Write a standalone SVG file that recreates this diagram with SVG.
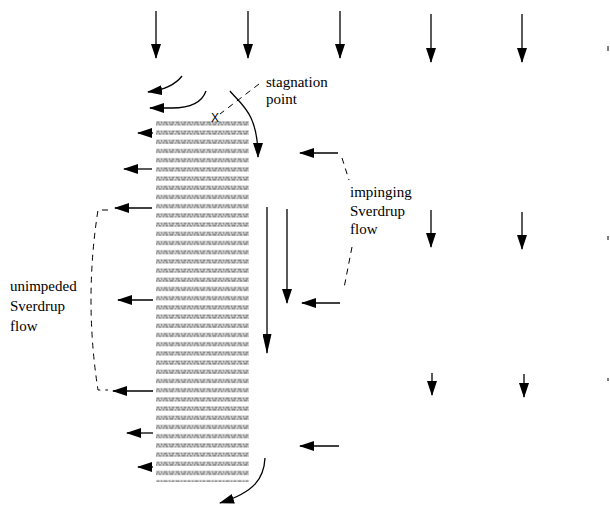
<svg xmlns="http://www.w3.org/2000/svg" width="610" height="505" viewBox="0 0 610 505">
<style>
.a{fill:none;stroke:#000;stroke-width:1.3;marker-end:url(#ah)}
.al{fill:none;stroke:#000;stroke-width:1.3;marker-end:url(#ahl)}
.d{fill:none;stroke:#000;stroke-width:1;stroke-dasharray:6 5}
.t{font-family:"Liberation Serif","Times New Roman",serif;font-size:15px;fill:#000}
</style>
<defs>
<marker id="ah" viewBox="0 0 15 10" markerWidth="15" markerHeight="10" refX="14" refY="5" markerUnits="userSpaceOnUse" orient="auto">
<path d="M0,0 L15,5 L0,10 Z" fill="#000"/>
</marker>
<marker id="ahl" viewBox="0 0 20 9" markerWidth="20" markerHeight="9" refX="19" refY="4.5" markerUnits="userSpaceOnUse" orient="auto">
<path d="M0,0 L20,4.5 L0,9 Z" fill="#000"/>
</marker>
<pattern id="hatch" patternUnits="userSpaceOnUse" x="156" y="121" width="31" height="9.2">
<rect x="0" y="0.3" width="31" height="4.2" fill="#bdbdbd"/>
<path d="M1,1.3h2M5,1.3h1M8,1.3h3M13,1.3h1M16,1.3h2M20,1.3h3M25,1.3h1M28,1.3h2M0,3.4h1M3,3.4h2M7,3.4h1M10,3.4h2M14,3.4h3M19,3.4h1M22,3.4h2M26,3.4h3" stroke="#8a8a8a" stroke-width="1.4"/>
<path d="M4,2.4h1M12,2.4h1M18,2.4h2M24,2.4h1M30,2.4h1" stroke="#e2e2e2" stroke-width="1"/>
</pattern>
</defs>

<g id="barrier">
<rect x="156" y="121" width="93" height="361" fill="url(#hatch)"/>
</g>

<g id="stagnation-point">
<text x="215" y="122" font-family="Liberation Sans, Arial, sans-serif" font-size="12" text-anchor="middle">X</text>
<text class="t" x="266" y="87">stagnation</text>
<text class="t" x="266" y="104">point</text>
</g>

<g id="impinging-label">
<text class="t" x="350" y="197">impinging</text>
<text class="t" x="350" y="215.5">Sverdrup</text>
<text class="t" x="350" y="234">flow</text>
</g>

<g id="unimpeded-label">
<text class="t" x="10" y="291">unimpeded</text>
<text class="t" x="10" y="311">Sverdrup</text>
<text class="t" x="10" y="331">flow</text>
</g>

<g id="connectors">
<line class="a" x1="156" y1="11" x2="156" y2="58"/>
<line class="a" x1="248" y1="11" x2="248" y2="58"/>
<line class="a" x1="340" y1="11" x2="340" y2="58"/>
<line class="a" x1="431" y1="14" x2="431" y2="62"/>
<line class="a" x1="522" y1="14" x2="522" y2="62"/>
<line x1="608" y1="46" x2="608" y2="51" stroke="#000" stroke-width="1"/>
<line x1="608" y1="236" x2="608" y2="240" stroke="#000" stroke-width="1"/>
<line x1="608" y1="378" x2="608" y2="381" stroke="#000" stroke-width="1"/>
<path class="a" d="M182,76 Q172,89 148,92"/>
<path class="a" d="M206,91 Q200,108 172,108 L150,108"/>
<path class="a" d="M230,91 C240,104 258,112 258,157"/>
<line class="d" x1="259" y1="84" x2="220" y2="114"/>
<line class="a" x1="153" y1="133" x2="138" y2="133"/>
<line class="a" x1="152" y1="169" x2="124" y2="169"/>
<line class="a" x1="152" y1="208" x2="115" y2="208"/>
<line class="a" x1="153" y1="300" x2="118" y2="300"/>
<line class="a" x1="153" y1="391" x2="113" y2="391"/>
<line class="a" x1="153" y1="433" x2="127" y2="433"/>
<line class="a" x1="153" y1="467" x2="138" y2="467"/>
<path class="d" d="M108,210 L98,210 Q84,300 98,390 L108,390"/>
<line class="a" x1="338" y1="153" x2="300" y2="153"/>
<line class="a" x1="340" y1="303" x2="302" y2="303"/>
<line class="a" x1="339" y1="446" x2="300" y2="446"/>
<path class="d" d="M342,158 L349,180"/>
<path class="d" d="M352,247 L344,288"/>
<line class="al" x1="267" y1="207" x2="267" y2="353"/>
<line class="a" x1="287" y1="209" x2="287" y2="303"/>
<line class="a" x1="431" y1="210" x2="431" y2="247"/>
<line class="a" x1="522" y1="212" x2="522" y2="249"/>
<line class="a" x1="432" y1="373" x2="432" y2="395"/>
<line class="a" x1="524" y1="374" x2="524" y2="397"/>
<path class="a" d="M265,458 C264,478 255,492 220,503"/>
</g>
</svg>
